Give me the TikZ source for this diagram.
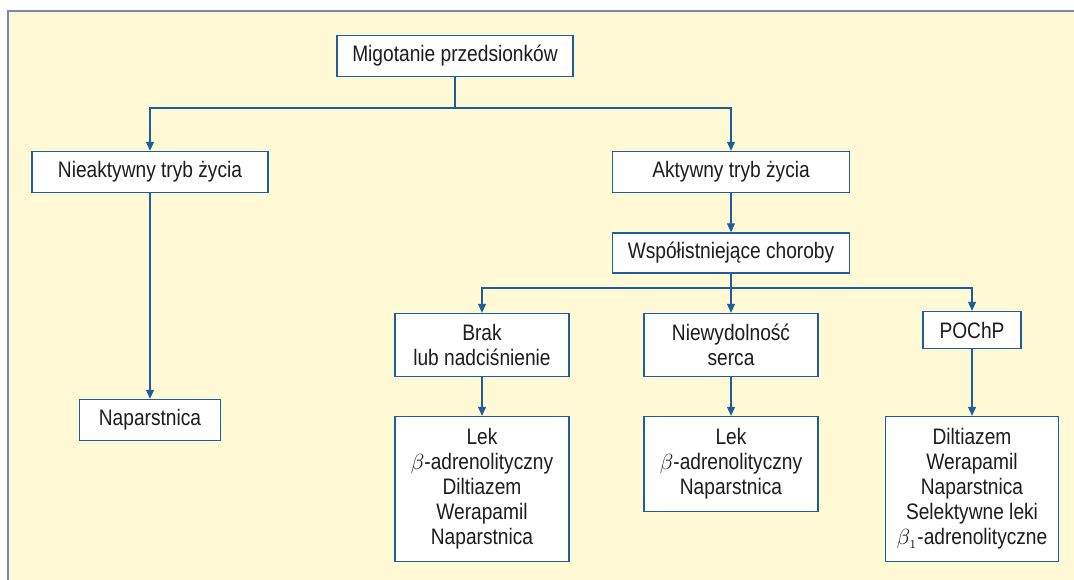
\documentclass[tikz,border=0pt]{standalone}
\usepackage{fontspec}
\setmainfont{Liberation Sans}[FakeStretch=0.855]
\usetikzlibrary{arrows.meta}
\definecolor{bgyellow}{HTML}{FFF9D6}
\definecolor{framegray}{HTML}{7A87B5}
\definecolor{lineblue}{HTML}{1D5E9B}
\definecolor{txtgray}{HTML}{1E1C1C}

\begin{document}
\begin{tikzpicture}[x=0.5pt,y=-0.5pt]
\tikzstyle{box}=[draw=lineblue,fill=white,line width=0.7pt,align=center,text=txtgray,font=\fontsize{11.2}{12.5}\selectfont,inner sep=0pt]
\tikzstyle{link}=[draw=lineblue,line width=0.6pt]
\tikzstyle{arr}=[link,-{Triangle[length=4.5pt,width=4pt]}]
\useasboundingbox (0,0) rectangle (1074,579);
\clip (0,0) rectangle (1074,579);
\fill[white] (0,0) rectangle (1074,579);
\fill[bgyellow] (8,11) rectangle (1080,585);
\draw[framegray,line width=1.25pt] (8,590) -- (8,11) -- (1080,11);
% top level
\node[box,minimum width=118pt,minimum height=20.5pt] (mig) at (455,56) {Migotanie przedsionków};
\node[box,minimum width=118pt,minimum height=20.5pt] (niea) at (150,172) {Nieaktywny tryb życia};
\node[box,minimum width=118.5pt,minimum height=20.5pt] (akt) at (731,172) {Aktywny tryb życia};
\node[box,minimum width=118.5pt,minimum height=20pt] (wsp) at (731,253) {Współistniejące choroby};
\node[box,minimum width=70.5pt,minimum height=20.5pt] (napar) at (150,420) {Naparstnica};
% diseases
\node[box,minimum width=87pt,minimum height=31.5pt] (brak) at (482,345) {Brak\\lub nadciśnienie};
\node[box,minimum width=87pt,minimum height=31.5pt] (niew) at (731,345) {Niewydolność\\serca};
\node[box,minimum width=49pt,minimum height=18.5pt] (pochp) at (972,330) {POChP};
% drugs
\node[box,minimum width=87pt,minimum height=72.5pt] (lekA) at (482,489) {Lek\\$\beta$-adrenolityczny\\Diltiazem\\Werapamil\\Naparstnica};
\node[box,minimum width=87pt,minimum height=47.5pt] (lekB) at (731,464) {Lek\\$\beta$-adrenolityczny\\Naparstnica};
\node[box,minimum width=86.5pt,minimum height=72.5pt] (lekC) at (972,489) {Diltiazem\\Werapamil\\Naparstnica\\Selektywne leki\\$\beta_{\scriptscriptstyle 1}$-adrenolityczne};
% connectors
\coordinate (fork1) at (455,108);
\coordinate (fork2) at (731,288);
\draw[link] (mig) -- (fork1);
\draw[arr] (fork1) -| (niea);
\draw[arr] (fork1) -| (akt);
\draw[arr] (niea) -- (napar);
\draw[arr] (akt) -- (wsp);
\draw[link] (wsp) -- (fork2);
\draw[arr] (fork2) -| (brak);
\draw[arr] (fork2) -- (niew);
\draw[arr] (fork2) -| (pochp);
\draw[arr] (brak) -- (lekA);
\draw[arr] (niew) -- (lekB);
\draw[arr] (pochp) -- (lekC);
\end{tikzpicture}
\end{document}
